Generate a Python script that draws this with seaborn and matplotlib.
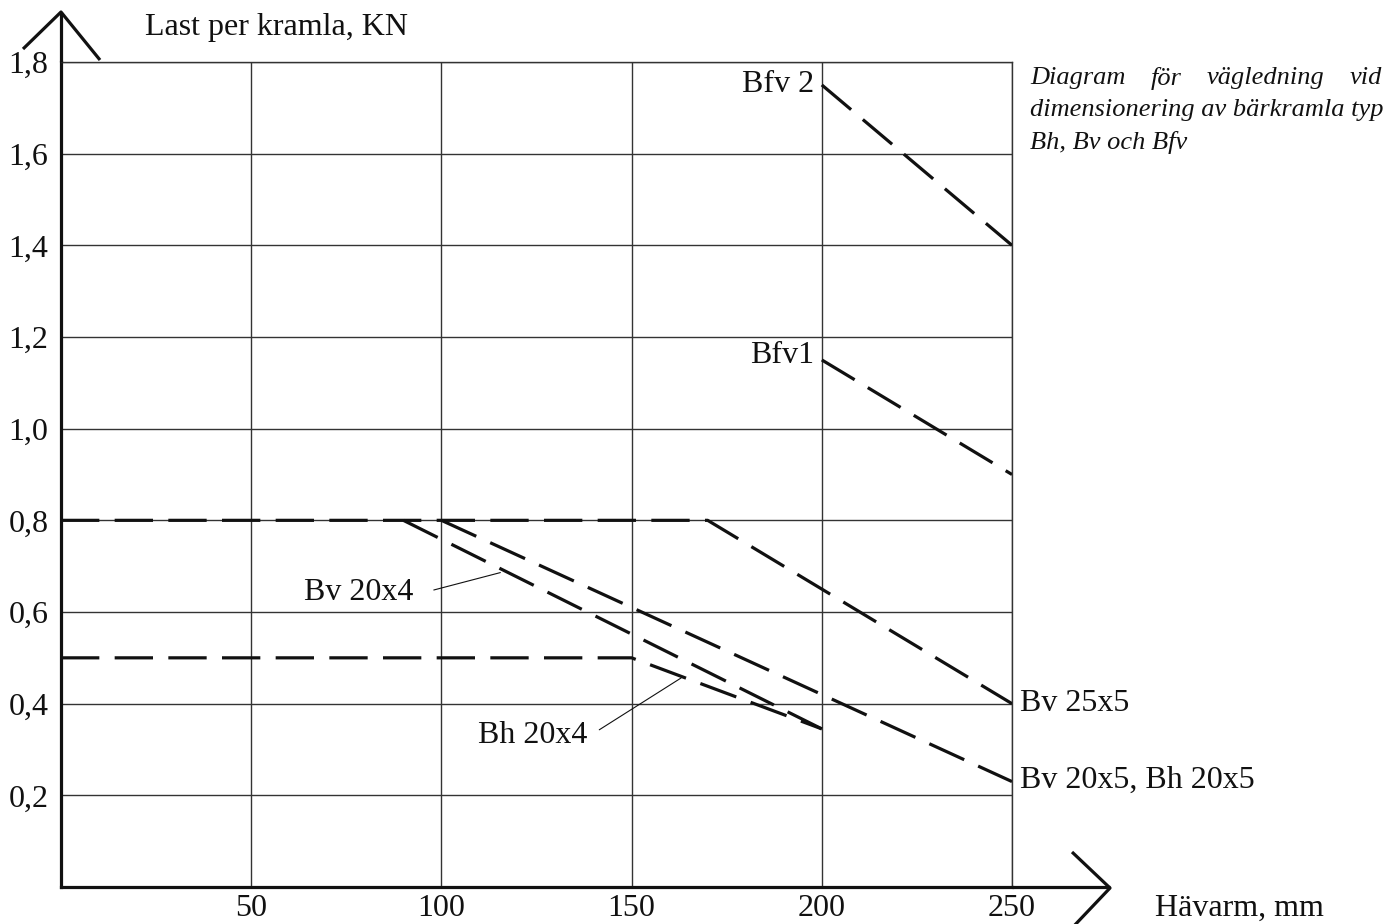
import matplotlib
matplotlib.use("Agg")
import matplotlib.pyplot as plt
from matplotlib.lines import Line2D
import seaborn as sns
import pandas as pd

# ---- data ----
x_bfv2 = [200, 250]
y_bfv2 = [1.75, 1.40]
x_bfv1 = [200, 250]
y_bfv1 = [1.15, 0.90]
x_bv25x5 = [0, 170, 250]
y_bv25x5 = [0.80, 0.80, 0.40]
x_bv20x5 = [100, 250]
y_bv20x5 = [0.80, 0.23]
x_bv20x4 = [90, 200]
y_bv20x4 = [0.80, 0.345]
x_bh20x4 = [0, 150, 200]
y_bh20x4 = [0.50, 0.50, 0.345]

x_ticks = [50, 100, 150, 200, 250]
y_ticks = [0.2, 0.4, 0.6, 0.8, 1.0, 1.2, 1.4, 1.6, 1.8]
y_ticklabels = ["0,2", "0,4", "0,6", "0,8", "1,0", "1,2", "1,4", "1,6", "1,8"]

series = {
    "Bfv 2": (x_bfv2, y_bfv2),
    "Bfv1": (x_bfv1, y_bfv1),
    "Bv 25x5": (x_bv25x5, y_bv25x5),
    "Bv 20x5, Bh 20x5": (x_bv20x5, y_bv20x5),
    "Bv 20x4": (x_bv20x4, y_bv20x4),
    "Bh 20x4": (x_bh20x4, y_bh20x4),
}

sns.set_theme(style="white")
plt.rcParams["font.family"] = ["Liberation Serif", "DejaVu Serif"]

W, H = 1397, 924
fig = plt.figure(figsize=(W / 100, H / 100), dpi=100)
x0, x1, y0, y1 = 61, 1012, 887, 62
ax = fig.add_axes([x0 / W, 1 - y0 / H, (x1 - x0) / W, (y0 - y1) / H])

def fx(px):
    return px / W

def fy(py):
    return 1 - py / H

for name, (xs, ys) in series.items():
    df = pd.DataFrame({"x": xs, "y": ys})
    sns.lineplot(data=df, x="x", y="y", ax=ax, color="#111111", lw=2.3,
                 linestyle=(0, (12, 4.8)), sort=False, estimator=None,
                 zorder=3)

FS = 23
ax.set_xlim(0, 250)
ax.set_ylim(0, 1.8)
ax.set_xticks(x_ticks)
ax.set_xticklabels([str(v) for v in x_ticks])
ax.set_yticks(y_ticks)
ax.set_yticklabels(y_ticklabels)
ax.set_xlabel("")
ax.set_ylabel("")
ax.tick_params(axis="both", length=0, labelsize=FS, colors="#111111")
ax.tick_params(axis="x", pad=5)
ax.tick_params(axis="y", pad=9)
ax.grid(True, color="#333333", lw=1.0)
for s in ["left", "bottom"]:
    ax.spines[s].set_linewidth(2.3)
    ax.spines[s].set_color("#111111")
for s in ["top", "right"]:
    ax.spines[s].set_linewidth(1.0)
    ax.spines[s].set_color("#333333")

# axis extensions and arrow heads
lk = dict(color="#111111", lw=2.3, transform=fig.transFigure, solid_capstyle="butt")
fig.add_artist(Line2D([fx(x0), fx(x0)], [fy(y1), fy(12)], **lk))
fig.add_artist(Line2D([fx(x1), fx(1110)], [fy(y0), fy(y0)], **lk))
fig.add_artist(Line2D([fx(23), fx(61), fx(100)], [fy(49), fy(12), fy(60)], **lk))
fig.add_artist(Line2D([fx(1072), fx(1110), fx(1072)], [fy(852), fy(888), fy(928)], **lk))

tk = dict(transform=fig.transFigure, fontsize=FS, color="#111111")
fig.text(fx(145), fy(28), "Last per kramla, KN", ha="left", va="center", **tk)
fig.text(fx(1155), fy(908), "Hävarm, mm", ha="left", va="center", **tk)

# series labels
lab = dict(fontsize=FS, color="#111111")
ax.text(198, 1.75, "Bfv 2", ha="right", va="center", **lab)
ax.text(198, 1.16, "Bfv1", ha="right", va="center", **lab)
ax.text(252, 0.40, "Bv 25x5", ha="left", va="center", **lab)
ax.text(252, 0.233, "Bv 20x5, Bh 20x5", ha="left", va="center", **lab)
ax.text(64, 0.643, "Bv 20x4", ha="left", va="center", **lab)
ax.text(109.5, 0.33, "Bh 20x4", ha="left", va="center", **lab)
ax.plot([98, 115.5], [0.648, 0.686], color="#111111", lw=0.8, zorder=3)
ax.plot([141.5, 163], [0.343, 0.456], color="#111111", lw=0.8, zorder=3)

# italic note (first line justified between left and right edge)
nk = dict(transform=fig.transFigure, fontsize=19, style="italic",
          color="#111111", va="center")
left_px, right_px = 1030, 1382
words = ["Diagram", "för", "vägledning", "vid"]
texts = [fig.text(fx(left_px), fy(78), w, ha="left", **nk) for w in words]
fig.canvas.draw()
r = fig.canvas.get_renderer()
widths = [t.get_window_extent(r).width for t in texts]
gap = (right_px - left_px - sum(widths)) / (len(words) - 1)
pos = left_px
for t, wd in zip(texts, widths):
    t.set_x(fx(pos))
    pos += wd + gap
fig.text(fx(left_px), fy(110), "dimensionering av bärkramla typ", ha="left", **nk)
fig.text(fx(left_px), fy(142), "Bh, Bv och Bfv", ha="left", **nk)

fig.savefig("out.png", dpi=100, facecolor="white")
